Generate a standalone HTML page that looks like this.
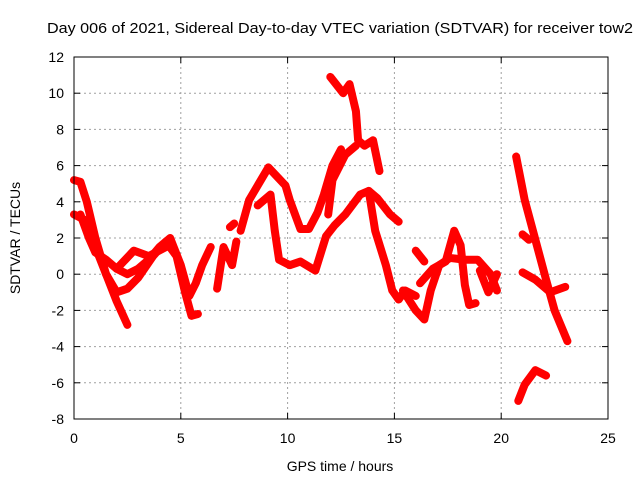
<!DOCTYPE html>
<html><head><meta charset="utf-8"><style>
body{margin:0;background:#fff;}
svg{display:block;font-family:"Liberation Sans",sans-serif;}
</style></head><body>
<svg id="chart" width="640" height="480" xmlns="http://www.w3.org/2000/svg">
<text x="340" y="33" font-size="15" text-anchor="middle" textLength="586" lengthAdjust="spacingAndGlyphs">Day 006 of 2021, Sidereal Day-to-day VTEC variation (SDTVAR) for receiver tow2</text>
<text x="340" y="471" font-size="14" text-anchor="middle">GPS time / hours</text>
<text x="0" y="0" font-size="14" text-anchor="middle" transform="translate(20,238) rotate(-90)">SDTVAR / TECUs</text>
<g id="grid"></g><g id="ticks"></g><g id="marks"></g>
<rect x="74" y="57" width="534" height="362" fill="none" stroke="#000" stroke-width="1"/>
</svg>
<script>
const xTicks=[0,5,10,15,20,25];
const yTicks=[-8,-6,-4,-2,0,2,4,6,8,10,12];
const trackA=[[0,5.2],[0.3,5.1],[0.6,4],[1,2],[1.5,0],[2,-1.5],[2.5,-2.8]];
const trackB=[[0,3.3],[0.5,3],[1,1.5],[1.5,0],[2,-1],[2.5,-0.8],[3,-0.2],[3.7,1],[4.3,1.8],[4.8,1],[5.2,-1],[5.5,-2.3],[5.8,-2.2]];
const trackC=[[0.3,3.3],[0.7,2],[1,1.2],[1.5,0.8],[2,0.3],[2.5,0],[3,0.3],[3.5,0.8],[4,1.5],[4.5,2],[5,0.5],[5.4,-1.2],[5.7,-0.5],[6,0.5],[6.4,1.5]];
const trackD=[[2,0.3],[2.8,1.3],[3.5,1.0],[4.3,1.5]];
const trackE=[[6.7,-0.8],[7,1.5],[7.4,0.5],[7.6,1.8]];
const trackF=[[7.3,2.6],[7.5,2.8]];
const trackG=[[7.8,2.4],[8.2,4.1],[9.1,5.9],[9.9,4.9],[10.1,4.1],[10.6,2.5],[11,2.5],[11.4,3.4],[11.7,4.4],[12.1,6],[12.5,6.9]];
const trackH=[[8.6,3.8],[9.2,4.4],[9.4,2.4],[9.6,0.8],[10.1,0.5],[10.6,0.7],[11.3,0.2],[11.8,2.1],[12.2,2.7],[12.7,3.3],[13.4,4.4],[13.8,4.6],[14.2,4.2],[14.8,3.3],[15.2,2.9]];
const trackI=[[12.0,10.9],[12.6,10],[12.9,10.5],[13.2,9],[13.3,7.4],[13.6,7.1],[14,7.4],[14.3,5.7]];
const trackJ=[[11.9,3.3],[12.1,5.2],[12.7,6.6],[13.2,7.1]];
const trackK=[[13.8,4.6],[14.1,2.4],[14.6,0.5],[14.9,-0.9],[15.2,-1.4],[15.5,-0.9],[16,-1.2]];
const trackL=[[16,1.3],[16.4,0.7]];
const trackM=[[15.4,-0.9],[16,-2],[16.4,-2.5],[16.7,-0.9],[17.1,0.5],[17.6,0.9],[18.3,0.8],[18.9,0.8],[19.5,0],[19.8,-0.9]];
const trackN=[[16.2,-0.5],[16.8,0.3],[17.4,0.7],[17.8,2.4],[18.1,1.6],[18.3,-0.6],[18.5,-1.7],[18.8,-1.6]];
const trackO=[[19,0.2],[19.4,-1.0],[19.8,0]];
const trackP=[[20.7,6.5],[21.1,4.1],[21.6,1.9],[22.1,-0.3],[22.5,-2],[23.1,-3.7]];
const trackQ=[[21,2.2],[21.3,1.9]];
const trackR=[[21,0.1],[21.6,-0.3],[22.3,-1.0],[23.0,-0.7]];
const trackS=[[20.8,-7],[21.1,-6.1],[21.6,-5.3],[22.1,-5.6]];
const tracks=[trackA,trackB,trackC,trackD,trackE,trackF,trackG,trackH,trackI,trackJ,trackK,trackL,trackM,trackN,trackO,trackP,trackQ,trackR,trackS];
const NS="http://www.w3.org/2000/svg";
const X0=74,X1=608,Y0=419,Y1=57;
const xs=t=>X0+(t-0)/25*(X1-X0);
const ys=v=>Y0-(v+8)/20*(Y0-Y1);
const grid=document.getElementById('grid'),ticks=document.getElementById('ticks'),marks=document.getElementById('marks');
function mk(tag,attrs,parent){const e=document.createElementNS(NS,tag);for(const k in attrs)e.setAttribute(k,attrs[k]);parent.appendChild(e);return e;}
xTicks.forEach(t=>{const x=xs(t);
 if(t>0&&t<25){const g=mk('line',{x1:x,x2:x,y1:Y1,y2:Y0,stroke:'#a0a0a0','stroke-dasharray':'2,3'},grid);
 
 }
 mk('line',{x1:x,x2:x,y1:Y0,y2:Y0-6,stroke:'#000'},ticks);mk('line',{x1:x,x2:x,y1:Y1,y2:Y1+6,stroke:'#000'},ticks);
 const l=mk('text',{x:x,y:Y0+24,'font-size':14,'text-anchor':'middle'},ticks);l.textContent=t;
 
 });
yTicks.forEach(v=>{const y=ys(v);
 if(v>-8&&v<12){const g=mk('line',{x1:X0,x2:X1,y1:y,y2:y,stroke:'#a0a0a0','stroke-dasharray':'2,3'},grid);
 
 }
 mk('line',{x1:X0,x2:X0+6,y1:y,y2:y,stroke:'#000'},ticks);mk('line',{x1:X1,x2:X1-6,y1:y,y2:y,stroke:'#000'},ticks);
 const l=mk('text',{x:X0-10,y:y+5,'font-size':14,'text-anchor':'end'},ticks);l.textContent=v;
 
 });
tracks.forEach(tr=>{
 const p=mk('polyline',{points:tr.map(d=>xs(d[0])+','+ys(d[1])).join(' '),fill:'none',stroke:'#ff0000','stroke-width':8,'stroke-linejoin':'round','stroke-linecap':'round'},marks);
 
 
});
</script>
</body></html>
